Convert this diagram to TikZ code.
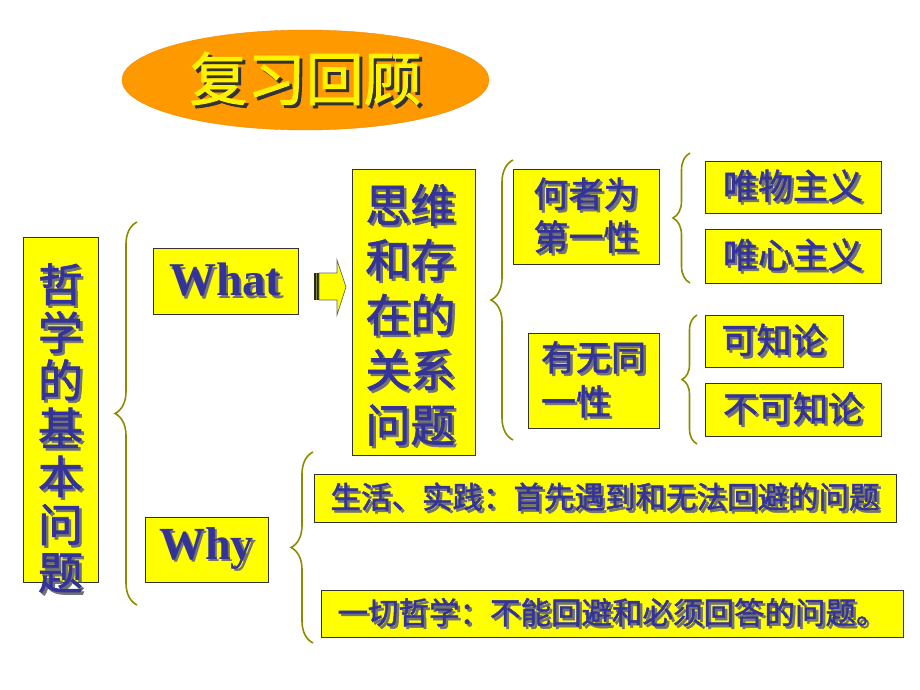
\documentclass[tikz,border=0pt]{standalone}
\usepackage{fontspec}
\newfontfamily\cjk[FakeBold=1.6]{Noto Sans CJK SC}
\newfontfamily\lat{Liberation Serif}
\usetikzlibrary{decorations.pathreplacing,shapes,positioning}
\definecolor{boxyellow}{RGB}{255,255,0}
\definecolor{txtblue}{RGB}{51,51,153}
\definecolor{braceolive}{RGB}{140,140,0}
\definecolor{titleorange}{RGB}{255,153,0}
\newcommand\shd[1]{\makebox[0pt][l]{\kern2.5pt\raisebox{-2.5pt}{\textcolor{black!55}{#1}}}#1}
\newcommand\tshd[1]{\makebox[0pt][l]{\kern3pt\raisebox{-3pt}{\textcolor{black!80}{#1}}}#1}
\newcommand\fs[2]{\fontsize{#1}{#2}\selectfont}

\tikzset{
  box/.style={draw=black!80,line width=0.8pt,fill=boxyellow,text=txtblue,font=\cjk,inner sep=0pt},
  boxtext/.style={text=txtblue,font=\cjk,inner sep=0pt,align=center},
  grp/.style={draw=braceolive,line width=1.6pt,decorate},
}

\begin{document}
\begin{tikzpicture}[x=1pt,y=-1pt]
\useasboundingbox (0,0) rectangle (920,690);

% title
\node[ellipse,fill=titleorange,draw={rgb,255:red,245;green,135;blue,0},minimum width=367pt,minimum height=100pt,
      text=yellow,font=\cjk\fs{58}{58},inner sep=0pt] (ttl) at (305.5,80) {\tshd{复习回顾}};

% left column
\node[box,minimum width=75pt,minimum height=345pt] (phil) at (60.5,409.5) {};
\node[boxtext,font=\cjk\fs{45}{48}] (philtxt) at ([yshift=-20pt]phil.center)
  {\shd{哲}\\\shd{学}\\\shd{的}\\\shd{基}\\\shd{本}\\\shd{问}\\\shd{题}};

\node[box,font=\lat\bfseries\fs{47}{47},minimum width=145pt,minimum height=66pt] (what) at (225.5,281) {\shd{What}\hspace{14pt}};
\node[box,font=\lat\bfseries\fs{46}{46},minimum width=123pt,minimum height=65pt] (why) at (206.5,549.5) {\shd{Why}\hspace{10pt}};

% block arrow
\fill[black!85] (314,273) rectangle (319,300);
\draw[braceolive,line width=0.8pt] (316.5,273) -- (316.5,300);
\draw[fill=boxyellow,draw=black!60,line width=0.7pt]
  (319,273) -- (337,273) -- (337,260) -- (346,287) -- (337,315) -- (337,300) -- (319,300) -- cycle;

% what branch
\node[box,minimum width=123pt,minimum height=286pt] (rel) at (413.5,312) {};
\node[boxtext,font=\cjk\fs{45}{55}] (reltxt) at ([xshift=-3pt,yshift=-4pt]rel.center)
  {\shd{思维}\\\shd{和存}\\\shd{在的}\\\shd{关系}\\\shd{问题}};

\node[box,align=left,font=\cjk\fs{35}{43},minimum width=146pt,minimum height=95pt] (first) at (586,216.5)
  {\shd{何者为}\\\shd{第一性}\hspace{24pt}};
\node[box,align=left,font=\cjk\fs{35}{44},minimum width=131pt,minimum height=95pt] (ident) at (593.5,380.5)
  {\shd{有无同}\\\shd{一性}};

\node[box,font=\cjk\fs{35}{35},minimum width=176pt,minimum height=52pt] (mat) at (793,187) {\shd{唯物主义}\hspace{22pt}};
\node[box,font=\cjk\fs{35}{35},minimum width=176pt,minimum height=54pt] (ideal) at (793,256) {\shd{唯心主义}\hspace{22pt}};
\node[box,font=\cjk\fs{35}{35},minimum width=138pt,minimum height=52pt] (know) at (774,341) {\shd{可知论}\hspace{16pt}};
\node[box,font=\cjk\fs{35}{35},minimum width=176pt,minimum height=53pt] (agn) at (793,409.5) {\shd{不可知论}\hspace{22pt}};

% why branch
\node[box,font=\cjk\fs{30.5}{30.5},minimum width=582pt,minimum height=48pt] (life) at (605,498)
  {\shd{生活、实践：首先遇到和无法回避的问题}\hspace{18pt}};
\node[box,font=\cjk\fs{30.5}{30.5},minimum width=582pt,minimum height=47pt] (all) at (612,613.5)
  {\shd{一切哲学：不能回避和必须回答的问题。}\hspace{18pt}};

% braces
\foreach \x/\ya/\yb/\amp [count=\n] in {137/605/222/22,513/440/160/22,690/283/153/17,697/444/315/15,313/643/452/22}{
  \coordinate (B\n s) at (\x,\ya);
  \coordinate (B\n e) at (\x,\yb);
  \draw[grp,decoration={brace,amplitude=\amp pt}] (B\n s) -- (B\n e);
}
\end{tikzpicture}
\end{document}
